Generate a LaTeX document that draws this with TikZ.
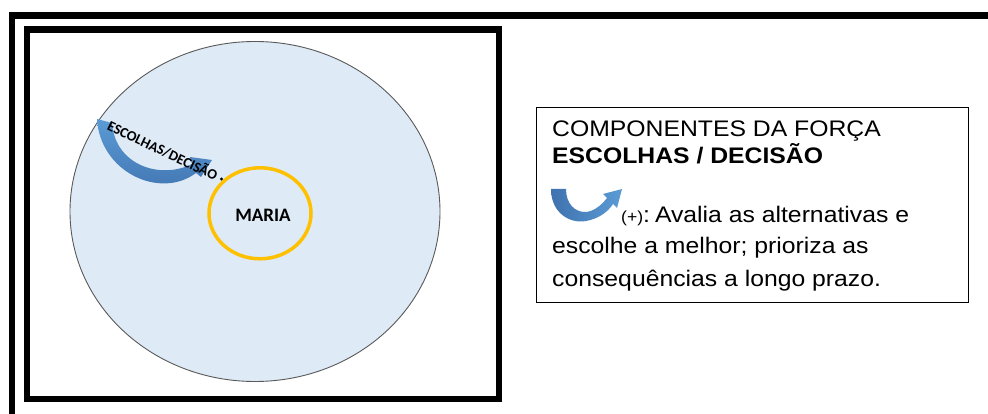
\documentclass[tikz,border=0pt]{standalone}
\usepackage{fontspec}
\setmainfont{Liberation Sans}
\newfontfamily\carlito{Carlito}
\definecolor{bgblue}{HTML}{DEEAF6}
\definecolor{ringgold}{HTML}{FFC000}
\definecolor{arrowlight}{HTML}{5B9BD5}
\definecolor{arrowdark}{HTML}{3F72AF}
\definecolor{edgegray}{HTML}{5A5A5A}
\tikzset{
  frame/.style={line width=6.5pt, draw=black},
  legendtext/.style={anchor=base west, inner sep=0pt, font=\fontsize{22.5}{26}\selectfont},
}
\newcommand{\wideText}[1]{\scalebox{1.1}[1]{#1}}
\begin{document}
\begin{tikzpicture}[x=1pt,y=-1pt]
\useasboundingbox (0,0) rectangle (988,414);
\fill[white] (0,0) rectangle (988,414);
% outer frame (cut by the page)
\draw[frame] (12,414) -- (12,15.5) -- (988,15.5);
% inner box
\draw[frame] (27,29.5) rectangle (499,399);
% big circle
\draw[fill=bgblue, draw=edgegray, line width=0.9pt] (255,211.5) ellipse [x radius=185, y radius=170];
% Maria ring
\draw[draw=ringgold, line width=3.5pt] (260,213.3) ellipse [x radius=51, y radius=45.5];
\node[inner sep=0pt, font=\carlito\bfseries\fontsize{19}{20}\selectfont] (maria) at (263,215) {MARIA};
% curved arrow
\shade[top color=arrowlight, bottom color=arrowdark]
  (97,119) .. controls (100,172) and (160,200) .. (196,173)
  -- (201,177) -- (212,160) -- (190,157) -- (192,164)
  .. controls (160,180) and (115,165) .. (112,123) -- cycle;
\node[inner sep=0pt, anchor=base, rotate=-25.5,
  font=\carlito\bfseries\fontsize{14.4}{15}\selectfont] (choice) at (160.5,155) {ESCOLHAS/DECISÃO};
\fill[black] (221.5,179) circle [radius=1.6];
% legend
\node[draw=black, line width=1pt, minimum width=432, minimum height=195.5, anchor=north west, inner sep=0pt] (legend) at (535.5,106.7) {};
\node[legendtext] (l1) at (552,137) {\wideText{COMPONENTES DA FORÇA}};
\node[legendtext] (l2) at (552,164) {\wideText{\bfseries ESCOLHAS / DECISÃO}};
\shade[left color=arrowdark, right color=arrowlight]
  (551,189) .. controls (551,213) and (570,224) .. (586,221)
  .. controls (598,219) and (608,212) .. (613,204)
  -- (617,208) -- (622,189) -- (603,194) -- (607,198)
  .. controls (600,207) and (592,212) .. (585,212)
  .. controls (575,212) and (566,204) .. (566,189) -- cycle;
\node[legendtext] (l3) at (621,223) {\wideText{{\fontsize{16}{18}\selectfont(+)}:\hspace{0.2em}Avalia as alternativas e}};
\node[legendtext] (l4) at (552,254) {\wideText{escolhe a melhor; prioriza as}};
\node[legendtext] (l5) at (552,286) {\wideText{consequências a longo prazo.}};
\end{tikzpicture}
\end{document}
